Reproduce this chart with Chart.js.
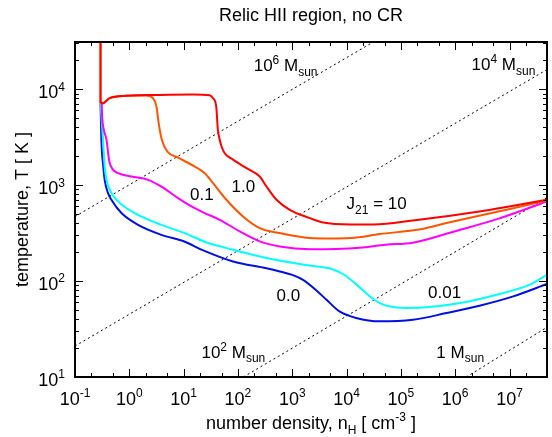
<!DOCTYPE html>
<html>
<head>
<meta charset="utf-8">
<script src="https://cdn.jsdelivr.net/npm/chart.js@4.4.1/dist/chart.umd.min.js"></script>
<style>
  html, body { margin: 0; padding: 0; background: #fff; }
  #wrap { width: 552px; height: 437px; }
</style>
</head>
<body>
<div id="wrap"><canvas id="chart" width="552" height="437"></canvas></div>
<script>
// number density n_H [cm^-3] and temperature T [K] for each J21
const nJ10 = [0.295, 0.295, 0.316, 0.437, 0.89, 3.63, 14.8, 30.2, 34.7, 39.8, 42.7, 46.2, 50.1, 57.1, 81.3, 144, 252, 335, 512, 900, 2100, 3720, 1.2e4, 3.2e4, 1.66e5, 2.8e6, 1.17e7, 4.9e7];
const tJ10 = [5e4, 7410, 7080, 8050, 8510, 8710, 8790, 8650, 8050, 6610, 3770, 2970, 2510, 2150, 1840, 1500, 1230, 966, 703, 553, 453, 407, 389, 389, 427, 531, 610, 703];

const nJ1 = [0.295, 0.295, 0.316, 0.437, 0.89, 2.0, 2.73, 3.16, 3.47, 3.98, 5.01, 7.94, 16, 24.5, 34.8, 61.4, 124, 252, 589, 2100, 4900, 1.2e4, 4.1e4, 2.3e5, 6.9e5, 1.17e7, 4.9e7];
const tJ1 = [5e4, 7410, 7080, 8050, 8510, 8610, 8050, 6610, 4430, 2950, 2240, 1930, 1560, 1330, 1050, 703, 471, 356, 316, 281, 278, 281, 309, 347, 402, 575, 692];

const nJ01 = [0.295, 0.309, 0.316, 0.339, 0.38, 0.427, 0.50, 0.62, 1.09, 2.21, 3.9, 7.89, 16, 24.5, 46.2, 108, 252, 589, 2100, 6300, 2e4, 5.2e4, 1.66e5, 1.0e6, 6.3e6, 4.9e7];
const tJ01 = [7410, 7080, 5130, 3770, 2970, 1780, 1450, 1330, 1230, 1135, 966, 733, 575, 511, 435, 329, 259, 229, 215, 216, 224, 239, 251, 331, 447, 676];

const nJ001 = [0.295, 0.316, 0.328, 0.352, 0.38, 0.436, 0.62, 1.26, 3.9, 10.5, 24.5, 81.3, 335, 2100, 5000, 8900, 1.66e4, 3.1e4, 4.2e4, 6e4, 1.26e5, 3.4e5, 1.4e6, 5.8e6, 2.3e7, 4.9e7];
const tJ001 = [7410, 3980, 2950, 1560, 1135, 891, 676, 511, 385, 316, 257, 212, 174, 145, 135, 117, 88, 65, 58.5, 54.5, 52.4, 53.6, 59.8, 72, 91.2, 116];

const nJ0 = [0.295, 0.306, 0.331, 0.352, 0.398, 0.468, 0.716, 1.45, 3.9, 10.5, 22.4, 81.3, 335, 589, 1000, 1580, 2820, 4270, 7410, 1.5e4, 4.1e4, 1.66e5, 6.9e5, 2.8e6, 1.17e7, 4.9e7];
const tJ0 = [7410, 2950, 1580, 1135, 851, 703, 511, 385, 303, 257, 210, 160, 136, 126, 116, 103, 79.4, 63.8, 48.2, 41.2, 38, 39.5, 46.4, 55.3, 69.2, 93.1];

// Jeans mass lines, end points
const jeansN = { '1e6': [0.1, 3.1e4], '1e4': [0.1, 4.9e7], '1e2': [126, 4.9e7], '1': [1.6e6, 4.9e7] };
const jeansT = { '1e6': [470, 3.1e4], '1e4': [21, 16000], '1e2': [10, 740], '1': [10, 33] };

// tick labels (powers of ten)
const xTickExps = [-1, 0, 1, 2, 3, 4, 5, 6, 7];
const yTickExps = [1, 2, 3, 4];

// text put on the plot, anchored in data units
const notes = [
  { n: 195, t: 15500, parts: [['10', 0], ['6', 1], [' M', 0], ['sun', -1]] },
  { n: 2.0e6, t: 15900, parts: [['10', 0], ['4', 1], [' M', 0], ['sun', -1]] },
  { n: 21.3, t: 15.9, parts: [['10', 0], ['2', 1], [' M', 0], ['sun', -1]] },
  { n: 4.5e5, t: 15.9, parts: [['1 M', 0], ['sun', -1]] },
  { n: 1e4, t: 560, parts: [['J', 0], ['21', -1], [' = 10', 0]] },
  { n: 76, t: 857, parts: [['1.0', 0]] },
  { n: 13.1, t: 703, parts: [['0.1', 0]] },
  { n: 3.16e5, t: 67, parts: [['0.01', 0]] },
  { n: 513, t: 62.4, parts: [['0.0', 0]] }
];

const FONT = '"Liberation Sans", Arial, Helvetica, sans-serif';

function pts(xs, ys) { return xs.map((v, i) => ({ x: v, y: ys[i] })); }

function curve(label, xs, ys, color) {
  return { label: label, data: pts(xs, ys), borderColor: color, borderWidth: 2,
           pointRadius: 0, cubicInterpolationMode: 'monotone', fill: false };
}
function jeans(key) {
  return { label: 'M' + key, data: pts(jeansN[key], jeansT[key]), borderColor: '#000',
           borderWidth: 1, borderDash: [2, 3], pointRadius: 0, tension: 0, fill: false };
}

// write text with super/subscripts
function rich(ctx, x, y, parts, size, align) {
  const small = Math.round(size * 0.68);
  let w = 0;
  parts.forEach(p => {
    ctx.font = (p[1] ? small : size) + 'px ' + FONT;
    w += ctx.measureText(p[0]).width;
  });
  if (align === 'center') x -= w / 2;
  if (align === 'right') x -= w;
  ctx.textAlign = 'left';
  ctx.textBaseline = 'alphabetic';
  parts.forEach(p => {
    ctx.font = (p[1] ? small : size) + 'px ' + FONT;
    let dy = 0;
    if (p[1] === 1) dy = -size * 0.42;
    if (p[1] === -1) dy = size * 0.28;
    ctx.fillText(p[0], x, y + dy);
    x += ctx.measureText(p[0]).width;
  });
}

const framePlugin = {
  id: 'frame',
  afterDraw(chart) {
    const ctx = chart.ctx;
    const a = chart.chartArea;
    const xs = chart.scales.x, ys = chart.scales.y;
    ctx.save();
    ctx.fillStyle = '#000';
    ctx.strokeStyle = '#000';

    // tick marks on all four sides, pointing inwards
    ctx.lineWidth = 1;
    ctx.beginPath();
    for (let e = -1; e <= 7; e++) {
      [1, 2, 5].forEach(m => {
        const v = m * Math.pow(10, e);
        if (v < xs.min || v > xs.max) return;
        const px = Math.round(xs.getPixelForValue(v)) + 0.5;
        const len = m === 1 ? 8 : 4;
        ctx.moveTo(px, a.bottom); ctx.lineTo(px, a.bottom - len);
        ctx.moveTo(px, a.top); ctx.lineTo(px, a.top + len);
      });
    }
    for (let e = 1; e <= 4; e++) {
      for (let m = 1; m <= 9; m++) {
        const v = m * Math.pow(10, e);
        if (v < ys.min || v > ys.max) continue;
        const py = Math.round(ys.getPixelForValue(v)) + 0.5;
        const len = m === 1 ? 8 : 4;
        ctx.moveTo(a.left, py); ctx.lineTo(a.left + len, py);
        ctx.moveTo(a.right, py); ctx.lineTo(a.right - len, py);
      }
    }
    ctx.stroke();

    ctx.lineWidth = 2;
    ctx.strokeRect(a.left, a.top, a.right - a.left, a.bottom - a.top);

    // tick labels
    xTickExps.forEach(e => {
      const px = xs.getPixelForValue(Math.pow(10, e));
      rich(ctx, px, a.bottom + 28, [['10', 0], [String(e), 1]], 18, 'center');
    });
    yTickExps.forEach(e => {
      const py = ys.getPixelForValue(Math.pow(10, e));
      rich(ctx, a.left - 10, py + 9, [['10', 0], [String(e), 1]], 18, 'right');
    });

    // axis titles and heading
    rich(ctx, (a.left + a.right) / 2, 21, [['Relic HII region, no CR', 0]], 18, 'center');
    rich(ctx, (a.left + a.right) / 2, 429,
         [['number density, n', 0], ['H', -1], [' [ cm', 0], ['-3', 1], [' ]', 0]], 18, 'center');
    ctx.save();
    ctx.translate(28, (a.top + a.bottom) / 2);
    ctx.rotate(-Math.PI / 2);
    rich(ctx, 0, 0, [['temperature, T [ K ]', 0]], 18, 'center');
    ctx.restore();

    // curve and mass labels
    notes.forEach(nt => {
      rich(ctx, xs.getPixelForValue(nt.n), ys.getPixelForValue(nt.t), nt.parts, 17, 'left');
    });
    ctx.restore();
  }
};

new Chart(document.getElementById('chart'), {
  type: 'line',
  data: {
    datasets: [
      curve('10', nJ10, tJ10, '#ff0000'),
      curve('1.0', nJ1, tJ1, '#ff5500'),
      curve('0.1', nJ01, tJ01, '#ff00ff'),
      curve('0.01', nJ001, tJ001, '#00ffff'),
      curve('0.0', nJ0, tJ0, '#0010e0'),
      jeans('1e6'), jeans('1e4'), jeans('1e2'), jeans('1')
    ]
  },
  options: {
    responsive: false,
    devicePixelRatio: 1,
    animation: false,
    layout: { padding: { left: 75, right: 5, top: 42, bottom: 60 } },
    scales: {
      x: { type: 'logarithmic', min: 0.1, max: 4.9e7, display: false },
      y: { type: 'logarithmic', min: 10, max: 3.1e4, display: false }
    },
    plugins: { legend: { display: false }, tooltip: { enabled: false } }
  },
  plugins: [framePlugin]
});
</script>
</body>
</html>
